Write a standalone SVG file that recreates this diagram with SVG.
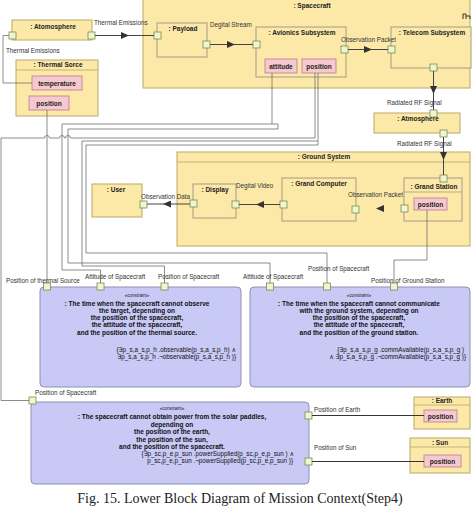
<svg xmlns="http://www.w3.org/2000/svg" width="474" height="508" viewBox="0 0 474 508">
<style>
.blk{fill:#fce9a8;stroke:#bba867;stroke-width:1}
.sub{fill:#fce9a8;stroke:#a39c84;stroke-width:1}
.part{fill:#f6c8cf;stroke:#c48d97;stroke-width:1}
.port{fill:#eef6cc;stroke:#7d8a55;stroke-width:0.8}
.cons{fill:#c9c9f6;stroke:#8f8fb8;stroke-width:1}
.hl{stroke:#b9a66a;stroke-width:0.8}
.t{font-family:"Liberation Sans",Arial,sans-serif;font-weight:bold;font-size:6.5px;fill:#222;text-anchor:middle}
.l{font-family:"Liberation Sans",Arial,sans-serif;font-size:6.3px;fill:#333}
.c{font-family:"Liberation Sans",Arial,sans-serif;font-weight:bold;font-size:6.5px;fill:#111;text-anchor:middle}
.st{font-family:"Liberation Sans",Arial,sans-serif;font-size:4.5px;fill:#222;text-anchor:middle}
.f{font-family:"Liberation Sans","DejaVu Sans",Arial,sans-serif;font-size:6.3px;fill:#111;text-anchor:end}
.flow{stroke:#444;stroke-width:1;fill:none;marker-mid:url(#ah)}
.wire{stroke:#6e6e6e;stroke-width:0.8;fill:none}
</style>
<defs>
<marker id="ah" viewBox="0 0 8 7" refX="4" refY="3.5" markerWidth="8" markerHeight="7" markerUnits="userSpaceOnUse" orient="auto"><path d="M0,0 L8,3.5 L0,7 z" fill="#333"/></marker>
</defs>
<rect width="474" height="508" fill="#fff"/>

<g id="spacecraft">
<rect class="blk" x="143" y="-2" width="327" height="90"/>
<text class="t" x="312" y="8">: Spacecraft</text>
<path d="M463,19 v-5 h3 v5 M466,16 h4 v3" stroke="#333" stroke-width="1" fill="none"/>
</g>
<g id="payload">
<rect class="sub" x="157" y="23" width="50" height="34"/>
<text class="t" x="183" y="31">: Payload</text>
<rect class="port" x="154" y="32" width="7" height="7"/>
<rect class="port" x="203" y="41" width="7" height="7"/>
</g>
<g id="avionics">
<rect class="sub" x="256" y="27" width="90" height="50"/>
<text class="t" x="302" y="35">: Avionics Subsystem</text>
<rect class="part" x="265" y="59" width="32" height="14"/>
<text class="t" x="281" y="68.5">attitude</text>
<rect class="part" x="302" y="59" width="34" height="14"/>
<text class="t" x="319" y="68.5">position</text>
<rect class="port" x="253" y="41" width="7" height="7"/>
<rect class="port" x="341" y="46" width="7" height="7"/>
</g>
<g id="telecom">
<rect class="sub" x="391" y="27" width="80" height="41"/>
<text class="t" x="432" y="35">: Telecom Subsystem</text>
<rect class="port" x="388" y="46" width="7" height="7"/>
<rect class="port" x="430" y="64" width="7" height="7"/>
</g>
<g id="atmosphere1">
<rect class="blk" x="12" y="20" width="80" height="20"/>
<text class="t" x="53" y="29">: Atomosphere</text>
<rect class="port" x="9" y="32" width="7" height="7"/>
<rect class="port" x="88" y="32" width="7" height="7"/>
</g>
<g id="thermal">
<rect class="blk" x="16" y="60" width="82" height="56"/>
<line class="hl" x1="16" y1="70" x2="98" y2="70"/>
<text class="t" x="58" y="67">: Thermal Sorce</text>
<rect class="part" x="32" y="76" width="50" height="14"/>
<text class="t" x="57" y="85.5">temperature</text>
<rect class="part" x="29" y="96" width="40" height="14"/>
<text class="t" x="49" y="105.5">position</text>
</g>
<g id="atmosphere2">
<rect class="blk" x="374" y="113" width="86" height="20"/>
<text class="t" x="418" y="121">: Atmosphere</text>
<rect class="port" x="430" y="110" width="7" height="7"/>
<rect class="port" x="440" y="130" width="7" height="7"/>
</g>
<g id="groundsystem">
<rect class="blk" x="177" y="152" width="293" height="94"/>
<line class="hl" x1="177" y1="162" x2="470" y2="162"/>
<text class="t" x="324" y="159">: Ground System</text>
</g>
<g id="user">
<rect class="blk" x="92" y="184" width="50" height="33"/>
<text class="t" x="116" y="192">: User</text>
<rect class="port" x="140" y="201" width="7" height="7"/>
</g>
<g id="display">
<rect class="sub" x="193" y="184" width="43" height="34"/>
<text class="t" x="215" y="192">: Display</text>
<rect class="port" x="190" y="200" width="7" height="7"/>
<rect class="port" x="232" y="201" width="7" height="7"/>
</g>
<g id="grandcomputer">
<rect class="sub" x="282" y="178" width="74" height="43"/>
<text class="t" x="319" y="186">: Grand Computer</text>
<rect class="port" x="280" y="201" width="7" height="7"/>
<rect class="port" x="352" y="206" width="7" height="7"/>
</g>
<g id="grandstation">
<rect class="sub" x="404" y="178" width="58" height="43"/>
<line x1="404" y1="192" x2="462" y2="192" stroke="#a39c84" stroke-width="0.8"/>
<text class="t" x="434" y="189">: Grand Station</text>
<rect class="part" x="414" y="198" width="33" height="12"/>
<text class="t" x="430.5" y="206.5">position</text>
<rect class="port" x="440" y="175" width="7" height="7"/>
<rect class="port" x="401" y="205" width="7" height="7"/>
</g>
<g id="constraint1">
<rect class="cons" x="40" y="287" width="201" height="100" rx="4"/>
<text class="st" x="137" y="296.5">«constraint»</text>
<text class="c" x="137" y="305.5">: The time when the spacecraft cannot observe</text>
<text class="c" x="137" y="312.8">the target, depending on</text>
<text class="c" x="137" y="320.1">the position of the spacecraft,</text>
<text class="c" x="137" y="327.4">the attitude of the spacecraft,</text>
<text class="c" x="137" y="334.7">and the position of the thermal source.</text>
<text class="f" x="236" y="351.5">{∃p_s,a_s,p_h .observable(p_s,a_s,p_h) ∧</text>
<text class="f" x="236" y="358.5">∃p_s,a_s,p_h .¬observable(p_s,a_s,p_h )}</text>
<rect class="port" x="43.5" y="283" width="7" height="7"/>
<rect class="port" x="97" y="283" width="7" height="7"/>
<rect class="port" x="161" y="283" width="7" height="7"/>
</g>
<g id="constraint2">
<rect class="cons" x="250" y="287" width="220" height="100" rx="4"/>
<text class="st" x="359" y="296.5">«constraint»</text>
<text class="c" x="359" y="305.5">: The time when the spacecraft cannot communicate</text>
<text class="c" x="359" y="312.8">with the ground system, depending on</text>
<text class="c" x="359" y="320.1">the position of the spacecraft,</text>
<text class="c" x="359" y="327.4">the attitude of the spacecraft,</text>
<text class="c" x="359" y="334.7">and the position of the ground station.</text>
<text class="f" x="464" y="351.5">{∃p_s,a_s,p_g .commAvailable(p_s,a_s,p_g )</text>
<text class="f" x="466" y="358.5">∧ ∃p_s,a_s,p_g .¬commAvailable(p_s,a_s,p_g )}</text>
<rect class="port" x="266.5" y="283" width="7" height="7"/>
<rect class="port" x="323.5" y="283" width="7" height="7"/>
<rect class="port" x="390.5" y="283" width="7" height="7"/>
</g>
<g id="constraint3">
<rect class="cons" x="31" y="402" width="278" height="82" rx="4"/>
<text class="st" x="172" y="410">«constraint»</text>
<text class="c" x="172" y="419">: The spacecraft cannot obtain power from the solar paddles,</text>
<text class="c" x="172" y="426.5">depending on</text>
<text class="c" x="172" y="434">the position of the earth,</text>
<text class="c" x="172" y="441.5">the position of the sun,</text>
<text class="c" x="172" y="449">and the position of the spacecraft.</text>
<text class="f" x="294" y="456">{∃p_sc,p_e,p_sun .powerSupplied(p_sc,p_e,p_sun ) ∧</text>
<text class="f" x="293" y="463">p_sc,p_e,p_sun .¬powerSupplied(p_sc,p_e,p_sun )}</text>
<rect class="port" x="29" y="397" width="7" height="7"/>
<rect class="port" x="305" y="412" width="7" height="7"/>
<rect class="port" x="305" y="458" width="7" height="7"/>
</g>
<g id="earth">
<rect class="blk" x="414" y="397" width="56" height="32"/>
<line class="hl" x1="414" y1="405" x2="470" y2="405"/>
<text class="t" x="442" y="403">: Earth</text>
<rect class="part" x="424" y="410" width="33" height="12"/>
<text class="t" x="440.5" y="418.5">position</text>
</g>
<g id="sun">
<rect class="blk" x="410" y="438" width="60" height="35"/>
<line class="hl" x1="410" y1="447" x2="470" y2="447"/>
<text class="t" x="440" y="445">: Sun</text>
<rect class="part" x="424" y="455" width="37" height="12"/>
<text class="t" x="442.5" y="463.5">position</text>
</g>

<g id="connectors">
<path class="flow" d="M95,35.5 L125,35.5 L154,35.5"/>
<path class="flow" d="M210,44.5 L231,44.5 L253,44.5"/>
<path class="flow" d="M348,49.5 L368,49.5 L388,49.5"/>
<path class="flow" d="M433.5,71 L433.5,90 L433.5,110" stroke-width="1.6"/>
<path class="flow" d="M443.5,137 L443.5,156 L443.5,175"/>
<path d="M401,208.5 L380,208.5 L359,208.5" fill="none" stroke="none" marker-mid="url(#ah)"/>
<path class="flow" d="M280,204.5 L260,204.5 L239,204.5"/>
<path class="flow" d="M190,204 L167,204 L147,204"/>
<path class="wire" d="M9,35.5 H3 V83 H32"/>
<path class="wire" d="M47,110 V283"/>
<path class="wire" d="M272,73 V124 H62 V270 H100.5 V283"/>
<path class="wire" d="M272,124 H278 V129 H68 V263 H270 V283"/>
<path class="wire" d="M315,73 V138 H70.5 A2.5,2.5 0 0 0 65.5,138 H64.5 A2.5,2.5 0 0 0 59.5,138 H49.5 A2.5,2.5 0 0 0 44.5,138 H1 V400.5 H29"/>
<path class="wire" d="M318,73 V141 H82 V266 H164.5 V283"/>
<path class="wire" d="M318,141 V145 H86 V253 H327 V283"/>
<path class="wire" d="M427,210 V260 H394 V283"/>
<path d="M312,415.5 H424 M312,461.5 H424" stroke="#333" stroke-width="1" fill="none"/>
</g>

<g id="labels">
<text class="l" x="94" y="25">Thermal Emissions</text>
<text class="l" x="6" y="53">Thermal Emissions</text>
<text class="l" x="210" y="27">Degital Stream</text>
<text class="l" x="341" y="42">Observation Packet</text>
<text class="l" x="387" y="105">Radiated RF Signal</text>
<text class="l" x="397" y="146">Radiated RF Signal</text>
<text class="l" x="141" y="199">Observation Data</text>
<text class="l" x="236" y="188">Degital Video</text>
<text class="l" x="348" y="197">Observation Packet</text>
<text class="l" x="6" y="283">Position of thermal Source</text>
<text class="l" x="85" y="279">Attitude of Spacecraft</text>
<text class="l" x="158" y="279">Position of Spacecraft</text>
<text class="l" x="243" y="279">Attitude of Spacecraft</text>
<text class="l" x="308" y="271">Position of Spacecraft</text>
<text class="l" x="371" y="283">Position of Ground Station</text>
<text class="l" x="35" y="395">Position of Spacecraft</text>
<text class="l" x="314" y="412">Position of Earth</text>
<text class="l" x="314" y="450">Position of Sun</text>
</g>
<text x="240" y="503" font-family="'Liberation Serif','Times New Roman',serif" font-size="14" fill="#222" text-anchor="middle">Fig. 15. Lower Block Diagram of Mission Context(Step4)</text>
</svg>
